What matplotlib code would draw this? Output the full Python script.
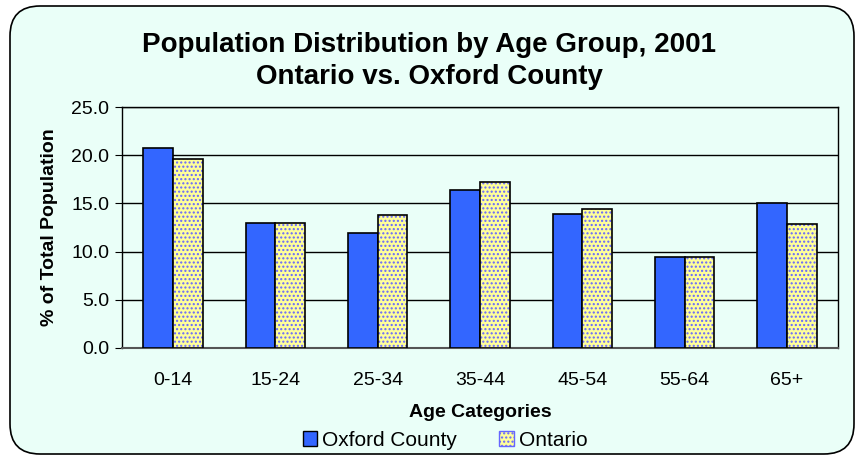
import numpy as np
import matplotlib
matplotlib.use("Agg")
import matplotlib.pyplot as plt
from matplotlib.patches import FancyBboxPatch, Patch

plt.rcParams['font.family'] = ['Liberation Sans', 'DejaVu Sans']

categories = ['0-14', '15-24', '25-34', '35-44', '45-54', '55-64', '65+']
oxford = [20.7, 13.0, 11.9, 16.4, 13.9, 9.4, 15.0]
ontario = [19.6, 13.0, 13.8, 17.2, 14.4, 9.4, 12.9]
yticks = [0, 5, 10, 15, 20, 25]

bg = '#EAFFF8'
fig = plt.figure(figsize=(8.59, 4.57), dpi=100)
fig.patch.set_facecolor('white')

# rounded chart frame
frame = FancyBboxPatch((10 / 859, 3 / 457), 844 / 859, 448 / 457,
                       boxstyle="round,pad=0,rounding_size=0.035",
                       transform=fig.transFigure, facecolor=bg,
                       edgecolor='black', linewidth=1.2, zorder=-5,
                       mutation_aspect=859 / 457)
fig.patches.append(frame)

ax = fig.add_axes([122 / 859, 109 / 457, 716 / 859, 241 / 457])
ax.set_zorder(2)
ax.set_facecolor(bg)

x = np.arange(len(categories))
w = 0.29
ax.bar(x - w / 2, oxford, w, color='#3366FF', edgecolor='black',
       linewidth=1.2, zorder=3, label='Oxford County')
ax.bar(x + w / 2, ontario, w, color='#FFFF99', edgecolor='#6666FF',
       hatch='....', linewidth=0, zorder=3)
ax.bar(x + w / 2, ontario, w, fill=False, edgecolor='black',
       linewidth=1.2, zorder=4)

ax.set_xlim(-0.5, len(categories) - 0.5)
ax.set_ylim(0, 25)
ax.set_yticks(yticks)
ax.set_yticklabels([f'{v:.1f}' for v in yticks], fontsize=14)
ax.set_xticks(x)
ax.set_xticklabels(categories, fontsize=14)
ax.tick_params(axis='x', length=0, pad=17)
ax.tick_params(axis='y', length=5, direction='out', pad=4)
ax.yaxis.grid(True, color='black', linewidth=1.0, zorder=0)
ax.set_axisbelow(True)
for s in ax.spines.values():
    s.set_color('black')
    s.set_linewidth(1.0)
ax.spines['bottom'].set_color('#555555')
ax.spines['bottom'].set_linewidth(1.5)

ax.set_ylabel('% of Total Population', fontsize=14, fontweight='bold', labelpad=10)
ax.set_xlabel('Age Categories', fontsize=14, fontweight='bold', labelpad=11)

fig.text(0.5, 1 - 45 / 457, 'Population Distribution by Age Group, 2001',
         ha='center', va='center', fontsize=20, fontweight='bold')
fig.text(0.5, 1 - 77 / 457, 'Ontario vs. Oxford County',
         ha='center', va='center', fontsize=20, fontweight='bold')

handles = [Patch(facecolor='#3366FF', edgecolor='black', label='Oxford County'),
           Patch(facecolor='#FFFF99', edgecolor='#6666FF', hatch='....', label='Ontario')]
leg = fig.legend(handles=handles, loc='center', bbox_to_anchor=(0.518, 1 - 440 / 457),
                 ncol=2, frameon=False, fontsize=15, handlelength=0.7,
                 handleheight=0.7, handletextpad=0.25, columnspacing=2.0)

fig.savefig('out.png', dpi=100, facecolor=fig.get_facecolor())
